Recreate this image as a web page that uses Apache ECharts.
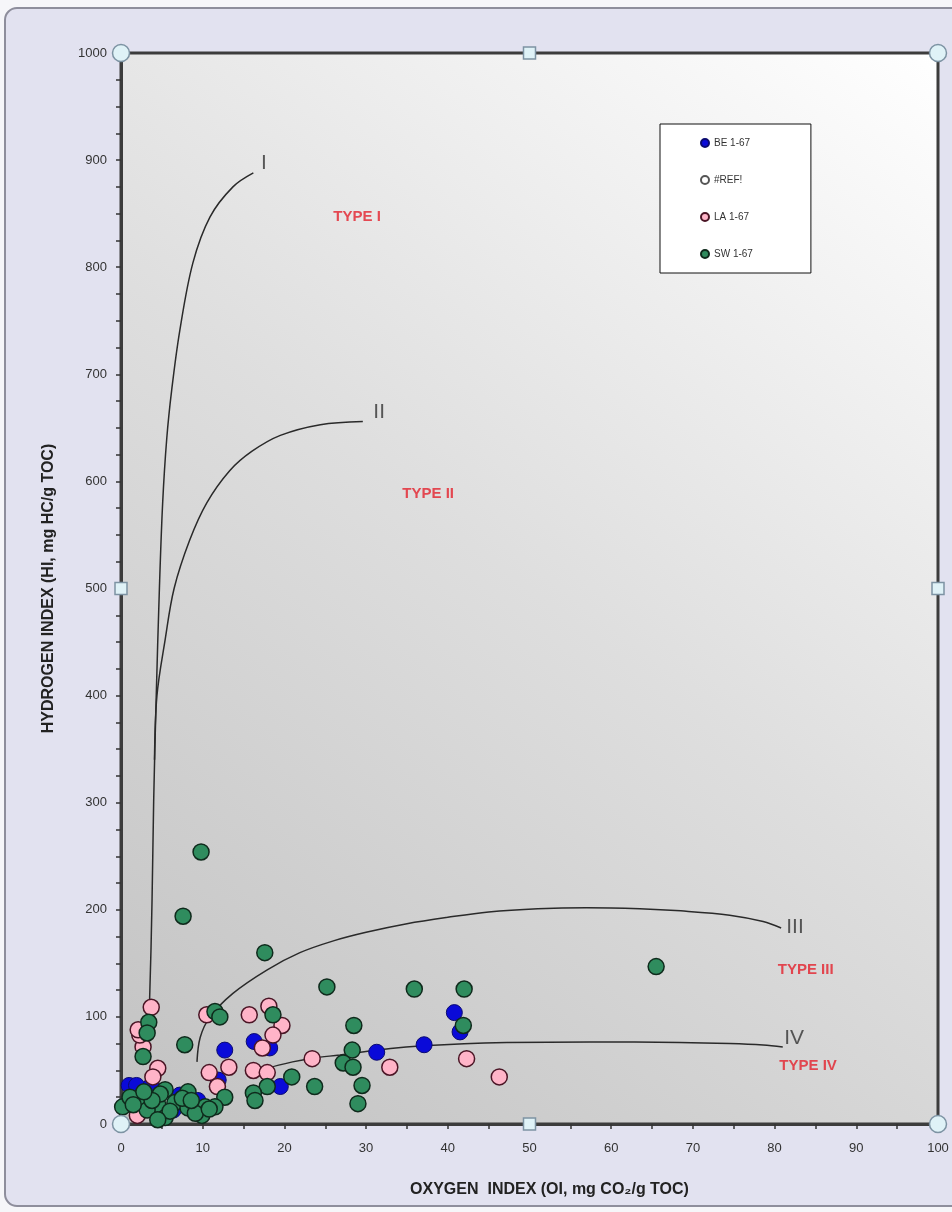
<!DOCTYPE html>
<html>
<head>
<meta charset="utf-8">
<script src="https://cdn.jsdelivr.net/npm/echarts@6/dist/echarts.min.js"></script>
<style>
html,body{margin:0;padding:0;background:#f6f6f9;}
#chart{width:952px;height:1212px;}
</style>
</head>
<body>
<div id="chart"></div>
<script>
// ---- axis ranges / ticks ----
const xMin = 0, xMax = 100, xInterval = 10;
const yMin = 0, yMax = 1000, yInterval = 100;

// ---- series data: [OI, HI] ----
const seriesNames = ['BE 1-67', '#REF!', 'LA 1-67', 'SW 1-67'];

const beData = [
  [40.8,104],[41.5,86],[37.1,74],[31.3,67],[12.7,69],[16.3,77],[18.2,71],
  [19.5,35],[1.0,36],[1.9,36],[3.7,36],[11.9,41],[9.4,22],[6.4,13],[7.2,27]
];

const refData = [];

const laData = [
  [3.7,109],[2.7,72],[2.3,83],[2.1,88],[4.5,52],[3.9,44],[10.5,102],[15.7,102],
  [18.1,110],[19.7,92],[18.6,83],[17.3,71],[13.2,53],[10.8,48],[11.8,35],
  [16.2,50],[17.9,48],[23.4,61],[32.9,53],[42.3,61],[46.3,44],[2.0,8]
];

const swData = [
  [9.8,254],[7.6,194],[17.6,160],[65.5,147],[25.2,128],[35.9,126],[42.0,126],
  [11.5,105],[12.1,100],[18.6,102],[28.5,92],[41.9,92],[7.8,74],[2.7,63],
  [3.4,95],[3.2,85],[28.3,69],[27.2,57],[28.4,53],[29.5,36],[29.0,19],
  [20.9,44],[23.7,35],[17.9,35],[16.2,29],[16.4,22],[12.7,25],[5.4,32],
  [2.1,24],[4.5,18],[6.6,20],[8.2,30],[8.2,15],[10.3,16],[0.2,16],[1.1,25],
  [5.4,6],[9.9,8],[7.5,24],[3.2,13],[11.5,16],[9.1,10],[4.8,28],[6.0,12],
  [1.5,18],[3.8,22],[10.8,14],[4.5,4],[8.6,22],[2.8,30]
];

// ---- kerogen type curves ----
const curveI = [
  [3.2,70],[3.5,116],[3.8,209],[4.0,302],[4.3,396],[4.7,500],[5.1,580],[5.6,640],
  [6.2,685],[7.2,741],[8.8,804],[10.9,847],[13.7,875],[16.2,888]
];
const curveII = [
  [4.1,340],[4.4,400],[5.4,452],[6.5,500],[8.4,545],[10.5,580],[13.3,610],
  [16.0,628],[19.5,643],[24.4,653],[29.6,656]
];
const curveIII = [
  [9.3,58],[9.7,81],[10.9,100],[13.7,122],[17.9,144],[21.9,160],[26.0,171],
  [30.0,179],[35.0,187],[40.0,193],[45.0,198],[51.0,201],[57.0,202],
  [63.5,201],[68.5,199],[74.5,195],[78.6,189],[80.8,183]
];
const curveIV = [
  [16.2,47],[17.9,52],[21.0,58],[23.5,61.5],[26.8,64.5],[29.3,67],[33.0,70.5],
  [37.0,73],[42.0,75],[47.2,76],[57.4,76.6],[68.4,76.2],[74.5,75.2],[78.6,73.8],[81.0,72]
];

// ---- annotation texts ----
const romanLabels = [['I',17.5,897],['II',31.6,665],['III',82.5,184],['IV',82.4,80]];
const typeLabels = [['TYPE I',28.9,847],['TYPE II',37.6,588],['TYPE III',83.8,144],['TYPE IV',84.1,54]];

const chart = echarts.init(document.getElementById('chart'));

const font = '"Liberation Sans", Arial, sans-serif';

function curve(data) {
  return {
    type: 'line', data: data, smooth: 0.35, symbol: 'none', silent: true,
    lineStyle: { color: '#2a2a2a', width: 1.5 }, z: 3
  };
}

// selection handles at plot corners and mid-points
const xMid = (xMin + xMax) / 2, yMid = (yMin + yMax) / 2;
const circleHandles = [[xMin,yMin],[xMax,yMin],[xMin,yMax],[xMax,yMax]];
const squareHandles = [[xMid,yMin],[xMid,yMax],[xMin,yMid],[xMax,yMid]];

const option = {
  backgroundColor: '#f6f6f9',
  animation: false,
  textStyle: { fontFamily: font },
  graphic: [{
    type: 'rect', z: -10,
    shape: { x: 5, y: 8, width: 1000, height: 1198, r: 12 },
    style: { fill: '#e2e2f0', stroke: '#8e8e9c', lineWidth: 2 }
  }],
  grid: {
    left: 121, right: 14, top: 53, bottom: 88,
    show: true,
    backgroundColor: new echarts.graphic.LinearGradient(0, 1, 1, 0, [
      { offset: 0, color: '#c2c2c2' },
      { offset: 0.5, color: '#dedede' },
      { offset: 1, color: '#ffffff' }
    ]),
    borderColor: '#3c3c3c', borderWidth: 3
  },
  legend: {
    orient: 'vertical', left: 660, top: 124,
    data: ['BE 1-67', '#REF!', 'LA 1-67', 'SW 1-67'],
    backgroundColor: '#ffffff', borderColor: '#111', borderWidth: 1, borderRadius: 0,
    padding: [14, 58, 14, 40],
    itemGap: 27, itemWidth: 8, itemHeight: 8, icon: 'circle',
    textStyle: { fontSize: 10, color: '#333', fontFamily: font, lineHeight: 10 },
    selectedMode: false
  },
  xAxis: {
    type: 'value', min: xMin, max: xMax, interval: xInterval,
    name: 'OXYGEN  INDEX (OI, mg CO\u2082/g TOC)',
    nameLocation: 'middle', nameGap: 58,
    nameTextStyle: { fontSize: 16, color: '#222', fontWeight: 'bold', padding: [0, 0, 0, 40], fontFamily: font },
    axisLine: { show: true, lineStyle: { color: '#3c3c3c', width: 3 } },
    axisTick: { show: true, length: 5, lineStyle: { color: '#333', width: 1.5 } },
    minorTick: { show: true, splitNumber: 2, length: 5, lineStyle: { color: '#333', width: 1.5 } },
    axisLabel: { fontSize: 13, color: '#333', margin: 18, fontFamily: font },
    splitLine: { show: false }
  },
  yAxis: {
    type: 'value', min: yMin, max: yMax, interval: yInterval,
    name: 'HYDROGEN INDEX (HI, mg HC/g TOC)',
    nameLocation: 'middle', nameGap: 64, nameRotate: 90,
    nameTextStyle: { fontSize: 16, color: '#222', fontWeight: 'bold', fontFamily: font },
    axisLine: { show: true, lineStyle: { color: '#3c3c3c', width: 3 } },
    axisTick: { show: true, length: 5, lineStyle: { color: '#333', width: 1.5 } },
    minorTick: { show: true, splitNumber: 4, length: 5, lineStyle: { color: '#333', width: 1.5 } },
    axisLabel: { fontSize: 13, color: '#333', margin: 14, fontFamily: font, formatter: v => String(v) },
    splitLine: { show: false }
  },
  series: [
    curve(curveI), curve(curveII), curve(curveIII), curve(curveIV),
    {
      name: 'BE 1-67', type: 'scatter', data: beData, symbolSize: 16, z: 4,
      itemStyle: { color: '#0a0ad8', borderColor: '#0a0a70', borderWidth: 1, opacity: 1 }
    },
    {
      name: '#REF!', type: 'scatter', data: refData, symbolSize: 16, z: 4,
      itemStyle: { color: '#ffffff', borderColor: '#555', borderWidth: 1.5, opacity: 1 }
    },
    {
      name: 'LA 1-67', type: 'scatter', data: laData, symbolSize: 16, z: 4,
      itemStyle: { color: '#ffb4c8', borderColor: '#4a1525', borderWidth: 1.5, opacity: 1 }
    },
    {
      name: 'SW 1-67', type: 'scatter', data: swData, symbolSize: 16, z: 4,
      itemStyle: { color: '#2f8c5e', borderColor: '#0f2a1c', borderWidth: 1.5, opacity: 1 }
    },
    {
      type: 'scatter', silent: true, symbolSize: 0, z: 6,
      data: romanLabels.map(d => ({ name: d[0], value: [d[1], d[2]] })),
      label: { show: true, position: 'inside', formatter: '{b}', fontSize: 21, color: '#333', fontFamily: font }
    },
    {
      type: 'scatter', silent: true, symbolSize: 0, z: 6,
      data: typeLabels.map(d => ({ name: d[0], value: [d[1], d[2]] })),
      label: { show: true, position: 'inside', formatter: '{b}', fontSize: 15, fontWeight: 'bold', color: '#e3202c', fontFamily: font }
    },
    {
      type: 'scatter', silent: true, symbol: 'circle', symbolSize: 17, z: 10,
      data: circleHandles,
      itemStyle: { color: '#dff2f7', borderColor: '#7d93a3', borderWidth: 1.5, opacity: 1 }
    },
    {
      type: 'scatter', silent: true, symbol: 'rect', symbolSize: 12, z: 10,
      data: squareHandles,
      itemStyle: { color: '#dff2f7', borderColor: '#7d93a3', borderWidth: 1.5, opacity: 1 }
    }
  ]
};

chart.setOption(option);
</script>
</body>
</html>
